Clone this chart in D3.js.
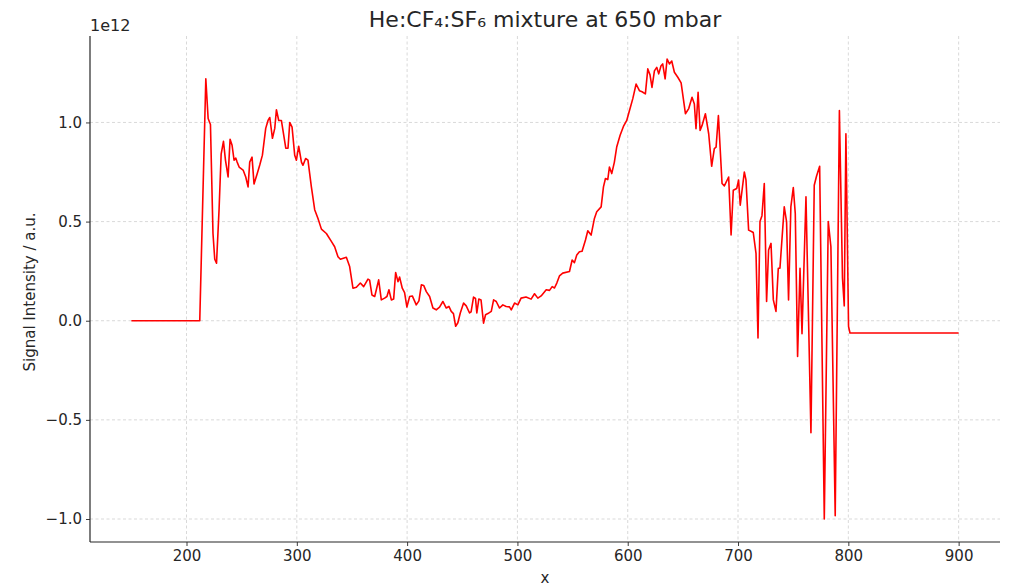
<!DOCTYPE html>
<html>

<head>
    <meta charset="utf-8">
    <title>He:CF4:SF6 mixture at 650 mbar</title>
    <script src="https://cdn.jsdelivr.net/npm/d3@7/dist/d3.min.js"></script>
    <style>
        body { margin: 0; background: #fff; }
        text { font-family: "DejaVu Sans", sans-serif; fill: #262626; }
    </style>
</head>

<body>
    <div id="chart"></div>
    <script>
        // wavelength (x) and signal in units of 1e12
        const xValues = [
            150, 211, 212, 217.5, 219.6, 221.7, 224, 225.6, 227.2, 229.5, 231.4, 233.5, 235.3, 237.7, 239.5,
            241.3, 243.1, 244.7, 245.9, 247.7, 251.3, 253.7, 255.8, 257.3, 259.4, 261.2, 264, 266.4, 268.8,
            271.8, 273.9, 275.5, 277.9, 280, 281.5, 283.6, 286, 290, 292, 293.6, 295.7, 298.1, 299.6, 301.7,
            304.2, 305.6, 308, 310.1, 313.2, 316.2, 319.2, 322.3, 326.8, 331.3, 334.3, 337.3, 339.5, 344.9,
            347.9, 350.9, 354, 357.6, 360.6, 364.5, 366, 368.1, 370.6, 372.1, 374.2, 376.6, 379.6, 381.7,
            383.5, 385.7, 387.8, 389.6, 391.7, 393.2, 395.6, 397.7, 399.8, 402.3, 404.7, 408.3, 410.7, 412.9,
            415, 417.4, 420.4, 423.4, 426.4, 429.4, 432.4, 435.5, 437.9, 440, 442, 444, 446, 448.2, 451.2,
            453.6, 456.6, 458, 460.2, 462, 463.2, 465, 467, 469.3, 471.1, 473.2, 476.3, 478.4, 480.8, 483.8,
            486.8, 489.8, 492.8, 494.4, 497.4, 500.4, 503.3, 507.8, 512.4, 515.5, 518.5, 521.5, 526.1, 529.1,
            531.5, 533.6, 535.7, 538.1, 541.1, 547.2, 549.6, 551.7, 553.8, 556.2, 558.6, 561.7, 563.8, 566.8,
            569.8, 571.9, 575.9, 578, 579.8, 581.9, 583.4, 585.5, 587.9, 590, 593.1, 596.1, 599.1, 601.6,
            604.6, 607.6, 610.6, 613, 616, 618.2, 620.2, 622, 624.2, 626.3, 628.1, 630.2, 631.7, 633.9, 635.7,
            637.8, 639.9, 642.3, 645.4, 648.4, 650.5, 652.3, 655.3, 658.3, 660.4, 661.9, 663.8, 665.6, 667.4,
            670.4, 673.4, 676.1, 678.5, 680.1, 682.2, 685.5, 687.6, 691.5, 693.7, 695.7, 698.8, 700.5, 702,
            705.7, 707.2, 709.6, 712.6, 713.8, 716.3, 718.1, 719.9, 721.7, 723.8, 725.9, 727.7, 729.9, 732,
            734.4, 736.5, 738, 741.9, 744, 745.8, 747.9, 750.1, 751.9, 754, 756.2, 758, 761.6, 766.1, 769.1,
            771.2, 774, 778.2, 781.8, 784.2, 788.1, 791.9, 794.7, 796.3, 797.8, 800.2, 801.5, 900
        ];
        const signal = [
            0, 0, 0, 1.22, 1.02, 0.99, 0.44, 0.31, 0.29, 0.56, 0.84, 0.905, 0.81, 0.725, 0.915,
            0.885, 0.81, 0.82, 0.80, 0.775, 0.76, 0.725, 0.675, 0.80, 0.825, 0.69, 0.74, 0.785, 0.835,
            0.97, 1.01, 1.025, 0.92, 0.97, 1.064, 1.01, 1.01, 0.87, 0.87, 1.0, 0.976, 0.834, 0.81, 0.88,
            0.80, 0.784, 0.818, 0.81, 0.675, 0.56, 0.516, 0.462, 0.44, 0.40, 0.373, 0.323, 0.31, 0.32,
            0.273, 0.164, 0.169, 0.19, 0.172, 0.21, 0.205, 0.13, 0.122, 0.156, 0.206, 0.105, 0.114, 0.122,
            0.156, 0.105, 0.11, 0.243, 0.197, 0.22, 0.164, 0.142, 0.069, 0.122, 0.125, 0.08, 0.10, 0.181,
            0.178, 0.147, 0.122, 0.064, 0.055, 0.069, 0.097, 0.064, 0.072, 0.047, 0.036, -0.028, -0.01, 0.039, 0.089,
            0.075, 0.039, 0.045, 0.119, 0.112, 0.039, 0.109, 0.105, -0.012, 0.03, 0.036, 0.047, 0.105, 0.097, 0.064,
            0.08, 0.072, 0.07, 0.055, 0.089, 0.08, 0.114, 0.12, 0.109, 0.136, 0.114, 0.125, 0.156, 0.153,
            0.172, 0.165, 0.19, 0.226, 0.24, 0.248, 0.306, 0.293, 0.332, 0.348, 0.35, 0.407, 0.454, 0.432,
            0.516, 0.55, 0.574, 0.675, 0.717, 0.712, 0.775, 0.742, 0.80, 0.876, 0.935, 0.98, 1.01, 1.06,
            1.12, 1.194, 1.16, 1.155, 1.144, 1.27, 1.24, 1.177, 1.26, 1.278, 1.245, 1.286, 1.295, 1.22, 1.32,
            1.295, 1.31, 1.253, 1.228, 1.20, 1.116, 1.044, 1.07, 1.127, 1.093, 0.968, 1.152, 0.96, 0.985,
            1.044, 0.943, 0.779, 0.868, 0.875, 1.035, 0.692, 0.68, 0.725, 0.432, 0.658, 0.667, 0.709, 0.583,
            0.75, 0.71, 0.457, 0.449, 0.445, 0.34, -0.087, 0.5, 0.53, 0.692, 0.097, 0.357, 0.39, 0.105,
            0.047, 0.265, 0.265, 0.574, 0.50, 0.105, 0.574, 0.672, 0.54, -0.18, 0.265, -0.065, 0.625, -0.565, 0.683,
            0.73, 0.779, -1.0, 0.5, 0.373, -0.983, 1.06, 0.214, 0.075, 0.943, -0.029, -0.062, -0.062
        ];
        const xTicks = [200, 300, 400, 500, 600, 700, 800, 900];
        const yTicks = [-1.0, -0.5, 0.0, 0.5, 1.0];

        const data = xValues.map((x, i) => ({ x: x, y: signal[i] }));

        const width = 1011, height = 588;
        const margin = { top: 36, right: 11, bottom: 46, left: 90 };

        const svg = d3.select("#chart")
            .append("svg")
            .attr("width", width)
            .attr("height", height);

        // matplotlib-style 5% padding around the data
        const pad = ([a, b]) => [a - (b - a) * 0.05, b + (b - a) * 0.05];

        const x = d3.scaleLinear()
            .domain(pad(d3.extent(xValues)))
            .range([margin.left, width - margin.right]);

        const y = d3.scaleLinear()
            .domain(pad(d3.extent(signal)))
            .range([height - margin.bottom, margin.top]);

        // grid
        const grid = svg.append("g")
            .attr("stroke", "#cfcfcf")
            .attr("stroke-width", 0.8)
            .attr("stroke-dasharray", "3,2.5");

        grid.selectAll(".gx")
            .data(xTicks)
            .enter()
            .append("line")
            .attr("x1", d => x(d)).attr("x2", d => x(d))
            .attr("y1", margin.top).attr("y2", height - margin.bottom);

        grid.selectAll(".gy")
            .data(yTicks)
            .enter()
            .append("line")
            .attr("x1", margin.left).attr("x2", width - margin.right)
            .attr("y1", d => y(d)).attr("y2", d => y(d));

        // line
        const line = d3.line()
            .x(d => x(d.x))
            .y(d => y(d.y));

        svg.append("path")
            .datum(data)
            .attr("fill", "none")
            .attr("stroke", "#ff0000")
            .attr("stroke-width", 1.6)
            .attr("stroke-linejoin", "round")
            .attr("d", line);

        // axes
        const xAxis = svg.append("g")
            .attr("transform", `translate(0,${height - margin.bottom})`)
            .call(d3.axisBottom(x).tickValues(xTicks).tickSize(4).tickPadding(4).tickFormat(d3.format("d")));

        const yAxis = svg.append("g")
            .attr("transform", `translate(${margin.left},0)`)
            .call(d3.axisLeft(y).tickValues(yTicks).tickSize(4).tickPadding(4).tickFormat(d3.format(".1f")));

        [xAxis, yAxis].forEach(a => {
            a.select(".domain").attr("stroke", "#262626").attr("stroke-width", 1.2);
            a.selectAll(".tick line").attr("stroke", "#262626").attr("stroke-width", 0.9);
            a.selectAll(".tick text")
                .attr("font-family", "DejaVu Sans, sans-serif")
                .attr("font-size", 15)
                .attr("fill", "#262626");
        });

        // remove the end caps of the axis paths
        xAxis.select(".domain").attr("d", `M${margin.left},0H${width - margin.right}`);
        yAxis.select(".domain").attr("d", `M0,${margin.top}V${height - margin.bottom}`);

        // offset text
        svg.append("text")
            .attr("x", margin.left)
            .attr("y", 31)
            .attr("font-size", 16)
            .text("1e12");

        // title
        svg.append("text")
            .attr("x", (margin.left + width - margin.right) / 2)
            .attr("y", 27)
            .attr("text-anchor", "middle")
            .attr("font-size", 22)
            .attr("fill", "#3a3a3a")
            .text("He:CF₄:SF₆ mixture at 650 mbar");

        // axis labels
        svg.append("text")
            .attr("x", (margin.left + width - margin.right) / 2)
            .attr("y", 583)
            .attr("text-anchor", "middle")
            .attr("font-size", 15)
            .text("x");

        svg.append("text")
            .attr("transform", `translate(35,${(margin.top + height - margin.bottom) / 2 + 3}) rotate(-90)`)
            .attr("text-anchor", "middle")
            .attr("font-size", 15)
            .text("Signal Intensity / a.u.");
    </script>
</body>

</html>
